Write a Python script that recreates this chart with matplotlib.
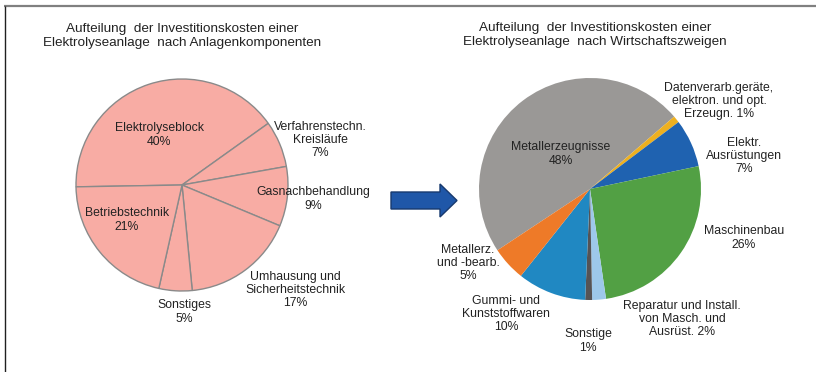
import matplotlib.pyplot as plt
from matplotlib.patches import FancyArrow

plt.rcParams['font.family'] = ['Liberation Sans', 'DejaVu Sans']

# Investitionskosten nach Anlagenkomponenten (links)
komp_namen = ["Elektrolyseblock", "Verfahrenstechn.\nKreisläufe", "Gasnachbehandlung",
              "Umhausung und\nSicherheitstechnik", "Sonstiges", "Betriebstechnik"]
komp_werte = [40, 7, 9, 17, 5, 21]

# Investitionskosten nach Wirtschaftszweigen (rechts)
zweig_namen = ["Metallerzeugnisse\n", "Datenverarb.geräte,\nelektron. und opt.\nErzeugn. ",
               "Elektr.\nAusrüstungen\n", "Maschinenbau\n",
               "Reparatur und Install.\nvon Masch. und\nAusrüst. ", "Sonstige\n",
               "Gummi- und\nKunststoffwaren\n", "Metallerz.\nund -bearb.\n"]
zweig_werte = [48, 1, 7, 26, 2, 1, 10, 5]
zweig_farben = ["#9a9896", "#edb020", "#1f62b0", "#52a044",
                "#9dc8ea", "#555355", "#2088c2", "#ee7a28"]

titel_links = "Aufteilung  der Investitionskosten einer\nElektrolyseanlage  nach Anlagenkomponenten"
titel_rechts = "Aufteilung  der Investitionskosten einer\nElektrolyseanlage  nach Wirtschaftszweigen"

# Beschriftungspositionen in Pixeln (x, y von oben)
pos_links = [(159, 135), (320, 140), (313, 199), (295, 290), (184, 312), (127, 220)]
pos_rechts = [(561, 154), (719, 101), (744, 156), (744, 238),
              (682, 319), (588, 341), (506, 314), (468, 263)]

W, H = 816, 372
fig = plt.figure(figsize=(W / 100, H / 100), dpi=100)
ax = fig.add_axes([0, 0, 1, 1])

textfarbe = "#222222"

# linker Kreis
ax.pie(komp_werte, center=(182, H - 185), radius=106, startangle=181, counterclock=False,
       colors=["#f8aca4"] * len(komp_werte),
       wedgeprops=dict(edgecolor="#8a8a8a", linewidth=1.0))
for name, wert, (x, y) in zip(komp_namen, komp_werte, pos_links):
    ax.text(x, H - y, f"{name}\n{wert}%", ha="center", va="center", fontsize=8.8,
            color=textfarbe, linespacing=1.15)

# rechter Kreis
ax.pie(zweig_werte, center=(590, H - 189), radius=111, startangle=213.5, counterclock=False,
       colors=zweig_farben, wedgeprops=dict(linewidth=0))
for name, wert, (x, y) in zip(zweig_namen, zweig_werte, pos_rechts):
    ax.text(x, H - y, f"{name}{wert}%", ha="center", va="center", fontsize=8.8,
            color=textfarbe, linespacing=1.15)

ax.text(182, H - 36, titel_links, ha="center", va="center", fontsize=9.7,
        color=textfarbe, linespacing=1.25)
ax.text(595, H - 35, titel_rechts, ha="center", va="center", fontsize=9.7,
        color=textfarbe, linespacing=1.25)

# Pfeil zwischen den Kreisen
ax.add_patch(FancyArrow(391, H - 200.5, 66, 0, width=17, head_width=33, head_length=17,
                        length_includes_head=True, facecolor="#1f57a8",
                        edgecolor="#17396e", linewidth=1.0))

# Rahmen oben und links
ax.plot([4, W], [H - 6, H - 6], color="#808080", linewidth=1.6, solid_capstyle="butt")
ax.plot([4.5, 4.5], [H - 6, 0], color="#202020", linewidth=1.0, solid_capstyle="butt")

ax.set_xlim(0, W)
ax.set_ylim(0, H)
ax.set_aspect("auto")
ax.axis("off")

fig.savefig("out.png", dpi=100, facecolor="white")
